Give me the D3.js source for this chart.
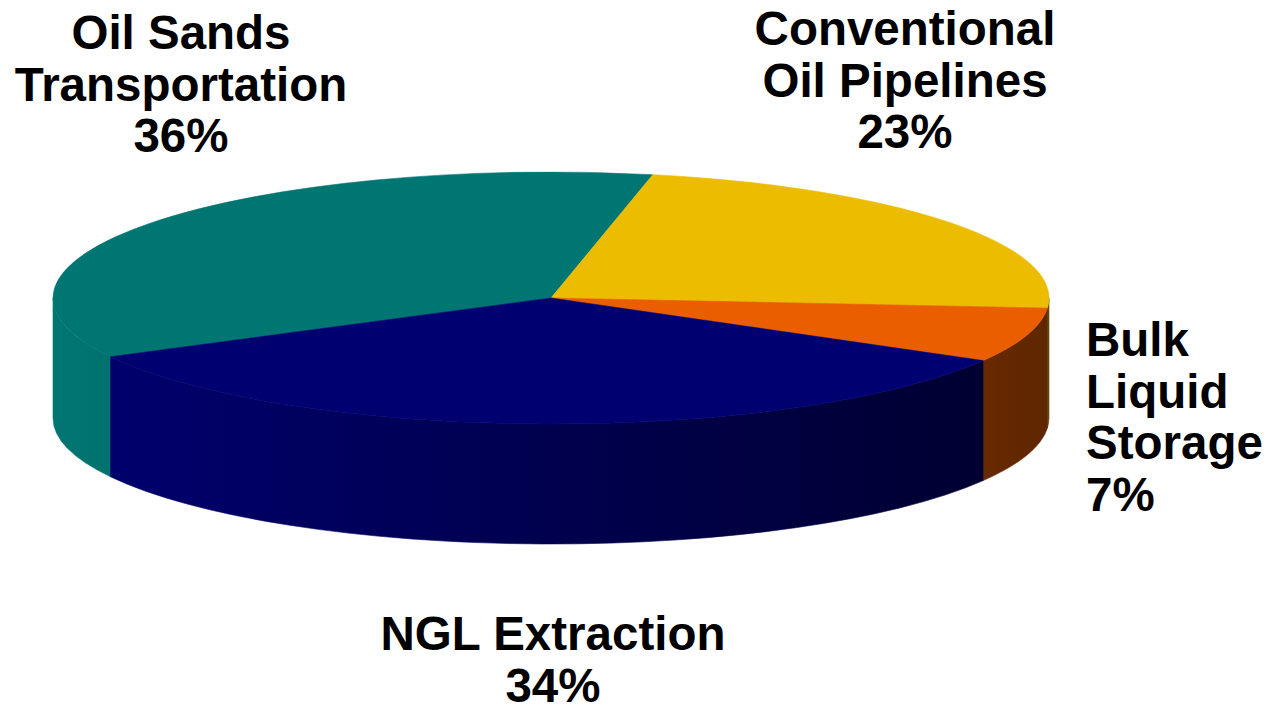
<!DOCTYPE html>
<html>
<head>
<meta charset="utf-8">
<script src="https://cdn.jsdelivr.net/npm/d3@7"></script>
<style>
  html, body { margin: 0; padding: 0; background: #ffffff; }
  svg { display: block; }
  text { font-family: "Liberation Sans", Arial, sans-serif; font-weight: bold; fill: #000; }
</style>
</head>
<body>
<svg id="chart" width="1276" height="706"></svg>
<script>
// Segment names (one entry per label line) and their shares in percent
const categories = ["Oil Sands Transportation", "Conventional Oil Pipelines", "Bulk Liquid Storage", "NGL Extraction"];
const nameLines = [["Oil Sands", "Transportation"], ["Conventional", "Oil Pipelines"], ["Bulk", "Liquid", "Storage"], ["NGL Extraction"]];
const shares = [36, 23, 7, 34];
const colors = ["#007672", "#ECBC00", "#EB5E00", "#000070"];

// Geometry of the tilted disc
const W = 1276, H = 706;
const cx = 551, cy = 298;      // centre of the top face
const rx = 498, ry = 126;      // radii of the top ellipse
const depth = 120;             // thickness of the disc
const startDeg = -117.8;       // rotation of the first segment

// Label anchors: x, first baseline, text-anchor
const labelLayout = [
  { x: 181, y: 49, anchor: "middle" },
  { x: 905, y: 45, anchor: "middle" },
  { x: 1086, y: 356, anchor: "start" },
  { x: 553, y: 650, anchor: "middle" }
];
const fontSize = 47.5, lineGap = 51.5;

const svg = d3.select("#chart");
const defs = svg.append("defs");

const pie = d3.pie().sort(null).value(d => d)
  .startAngle(startDeg * Math.PI / 180)
  .endAngle(startDeg * Math.PI / 180 + 2 * Math.PI);
const arcs = pie(shares);

// Point on the top (dy = 0) or bottom (dy = depth) ellipse for a pie angle
const pt = (a, dy = 0) => [cx + rx * Math.sin(a), cy - ry * Math.cos(a) + dy];

// Sides: darken from left to right across the disc
colors.forEach((c, i) => {
  const base = d3.rgb(c);
  const dark = d3.rgb(base.r * 0.4, base.g * 0.4, base.b * 0.4);
  const g = defs.append("linearGradient")
    .attr("id", "side" + i)
    .attr("gradientUnits", "userSpaceOnUse")
    .attr("x1", cx - rx).attr("y1", 0)
    .attr("x2", cx + rx).attr("y2", 0);
  g.append("stop").attr("offset", "0%").attr("stop-color", base.formatHex());
  g.append("stop").attr("offset", "100%").attr("stop-color", dark.formatHex());
});

// Visible (front) part of the wall lies between pie angles 90° and 270°
const sideGroup = svg.append("g");
arcs.forEach((d, i) => {
  for (let k = -1; k <= 1; k++) {
    const lo = Math.PI / 2 + 2 * Math.PI * k;
    const hi = 3 * Math.PI / 2 + 2 * Math.PI * k;
    const a1 = Math.max(d.startAngle, lo);
    const a2 = Math.min(d.endAngle, hi);
    if (a2 - a1 <= 1e-6) continue;
    const p1 = pt(a1), p2 = pt(a2), q2 = pt(a2, depth), q1 = pt(a1, depth);
    const path = `M${p1}A${rx},${ry} 0 0 1 ${p2}L${q2}A${rx},${ry} 0 0 0 ${q1}Z`;
    sideGroup.append("path")
      .attr("d", path)
      .attr("fill", `url(#side${i})`)
      .attr("stroke", `url(#side${i})`)
      .attr("stroke-width", 0.6);
  }
});

// Top faces
const topGroup = svg.append("g");
arcs.forEach((d, i) => {
  const p1 = pt(d.startAngle), p2 = pt(d.endAngle);
  const large = (d.endAngle - d.startAngle) > Math.PI ? 1 : 0;
  const path = `M${cx},${cy}L${p1}A${rx},${ry} 0 ${large} 1 ${p2}Z`;
  topGroup.append("path")
    .attr("d", path)
    .attr("fill", colors[i])
    .attr("stroke", colors[i])
    .attr("stroke-width", 0.6);
});

// Labels: name lines followed by the share
const labelGroup = svg.append("g");
categories.forEach((c, i) => {
  const L = labelLayout[i];
  const lines = nameLines[i].concat([shares[i] + "%"]);
  const t = labelGroup.append("text")
    .attr("x", L.x).attr("y", L.y)
    .attr("text-anchor", L.anchor)
    .attr("font-size", fontSize);
  lines.forEach((ln, j) => {
    t.append("tspan")
      .attr("x", L.x)
      .attr("y", L.y + j * lineGap)
      .text(ln);
  });
});
</script>
</body>
</html>
